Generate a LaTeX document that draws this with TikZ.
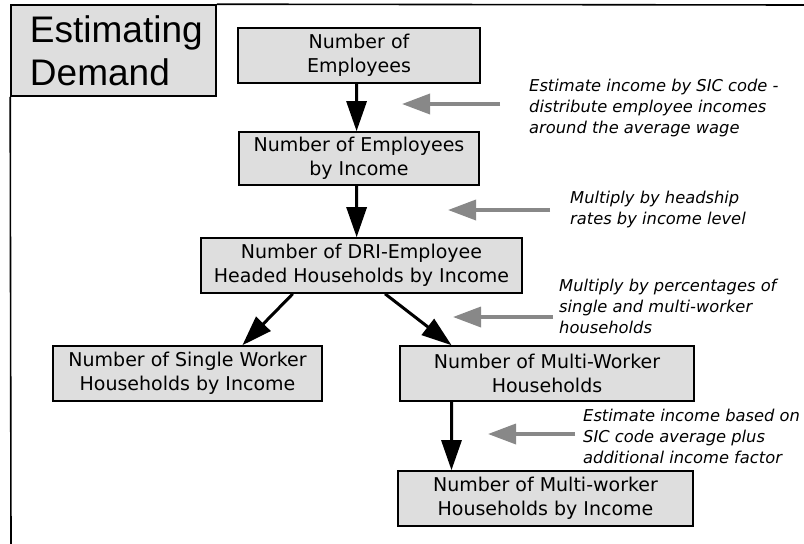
\documentclass[tikz,border=0pt]{standalone}
\usepackage{fontspec}
\setmainfont{DejaVu Sans}
\newfontfamily\titlefont{Liberation Sans}
\usetikzlibrary{arrows.meta,calc}
\definecolor{boxgray}{HTML}{DEDEDE}
\definecolor{arrowgray}{HTML}{888888}
\begin{document}
\begin{tikzpicture}[x=1pt,y=-1pt,
  stepbox/.style={draw=black, line width=1.6pt, fill=boxgray, inner sep=0pt, align=center,
    font=\fontsize{19}{24.5}\selectfont},
  blk/.style={line width=3pt, -{Triangle[length=30pt,width=20pt]}},
  gry/.style={draw=arrowgray, line width=3.5pt, -{Triangle[length=28pt,width=20pt]}},
  note/.style={anchor=north west, inner sep=0pt, align=left,
    font=\fontsize{16.3}{21}\selectfont\itshape},
  frame/.style={line width=1.6pt}]
\useasboundingbox (0,0) rectangle (804,544);

% title
\node[draw=black, line width=1.6pt, fill=boxgray, minimum width=205pt, minimum height=91pt,
  inner sep=0pt, text width=167pt, align=left, font=\titlefont\fontsize{37}{43}\selectfont]
  (title) at (113.5,50.5) {Estimating\\Demand};
\coordinate (fr1) at (804,5);
\coordinate (fr2) at (11,544);
\draw[frame] (title.north east) -- (fr1);
\draw[frame] (title.south west) -- (fr2);

% boxes
\node[stepbox, minimum width=242pt, minimum height=55pt] (b1) at (359,55.5) {Number of\\Employees};
\node[stepbox, minimum width=240pt, minimum height=53pt] (b2) at (359,158.5) {Number of Employees\\by Income};
\node[stepbox, minimum width=321pt, minimum height=55pt] (b3) at (361.5,265.5) {Number of DRI-Employee\\Headed Households by Income};
\node[stepbox, minimum width=269pt, minimum height=55pt] (b4) at (187.5,373.5) {Number of Single Worker\\Households by Income};
\node[stepbox, minimum width=294pt, minimum height=55pt] (b5) at (547,373.5) {Number of Multi-Worker\\Households};
\node[stepbox, minimum width=295pt, minimum height=55pt] (b6) at (545.5,498.5) {Number of Multi-worker\\Households by Income};

% black arrows
\draw[blk] ($(b1.south west)!0.49!(b1.south east)$) -- ($(b2.north west)!0.49!(b2.north east)$);
\draw[blk] ($(b2.south west)!0.49!(b2.south east)$) -- ($(b3.north west)!0.485!(b3.north east)$);
\draw[blk] ($(b3.south west)!0.287!(b3.south east)$) -- ($(b4.north west)!0.703!(b4.north east)$);
\draw[blk] ($(b3.south west)!0.573!(b3.south east)$) -- ($(b5.north west)!0.177!(b5.north east)$);
\draw[blk] ($(b5.south west)!0.177!(b5.south east)$) -- ($(b6.north west)!0.183!(b6.north east)$);

% gray arrows
\coordinate (g1t) at (500,104); \coordinate (g1h) at (402,104);
\coordinate (g2t) at (550,210); \coordinate (g2h) at (448,210);
\coordinate (g3t) at (553,317); \coordinate (g3h) at (453,317);
\coordinate (g4t) at (575,434); \coordinate (g4h) at (488,434);
\draw[gry] (g1t) -- (g1h);
\draw[gry] (g2t) -- (g2h);
\draw[gry] (g3t) -- (g3h);
\draw[gry] (g4t) -- (g4h);

% notes
\node[note] (n1) at (529,79) {Estimate income by SIC code -\\distribute employee incomes\\around the average wage};
\node[note] (n2) at (570,191) {Multiply by headship\\rates by income level};
\node[note] (n3) at (559,279) {Multiply by percentages of\\single and multi-worker\\households};
\node[note] (n4) at (583,409) {Estimate income based on\\SIC code average plus\\additional income factor};
\end{tikzpicture}
\end{document}
